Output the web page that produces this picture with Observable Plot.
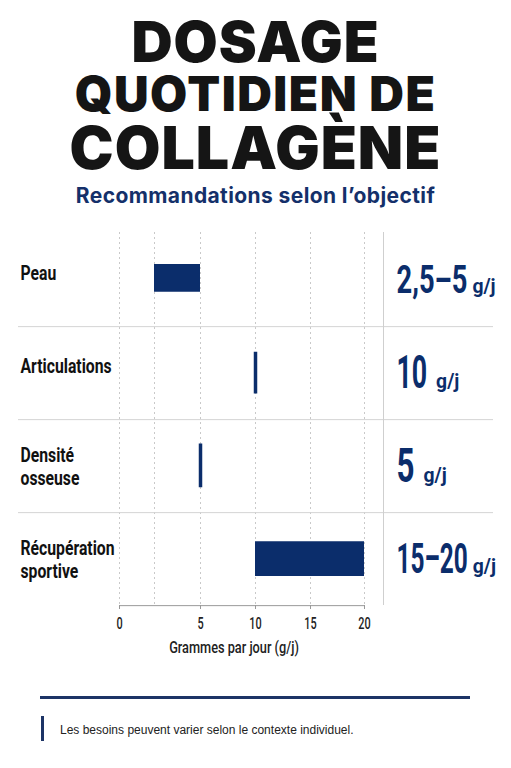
<!DOCTYPE html>
<html><head><meta charset="utf-8">
<script src="https://cdn.jsdelivr.net/npm/d3@7"></script>
<script src="https://cdn.jsdelivr.net/npm/@observablehq/plot@0.6"></script>
<style>
html,body{margin:0;padding:0;background:#fff;}
body{width:511px;height:768px;overflow:hidden;position:relative;font-family:Inter,"Noto Sans",sans-serif;}
.tl{position:absolute;left:0;width:511px;text-align:center;white-space:nowrap;font-family:Inter,sans-serif;font-weight:900;color:#151515;line-height:0.85;}
#sub{position:absolute;left:0;width:511px;text-align:center;white-space:nowrap;font-family:Inter,sans-serif;font-weight:700;font-size:21px;letter-spacing:0.4px;line-height:1;color:#14306a;top:184.8px;}
#chart{position:absolute;left:0;top:230px;}
#rule{position:absolute;left:40px;top:696px;width:430px;height:2.5px;background:#1d3466;}
#bar{position:absolute;left:41px;top:716px;width:2.5px;height:25px;background:#1d3466;}
#note{position:absolute;left:60px;top:724px;font-family:"Liberation Sans",Arial,sans-serif;font-size:12px;line-height:1;color:#222;white-space:nowrap;}
</style></head>
<body>
<div id="t1" class="tl"></div><div id="t2" class="tl"></div><div id="t3" class="tl"></div>
<div id="sub"></div>
<div id="chart"></div>
<div id="rule"></div><div id="bar"></div><div id="note"></div>
<script>
// ---- data ----
const titleLines = ["DOSAGE", "QUOTIDIEN DE", "COLLAGÈNE"];
const subtitle = "Recommandations selon l’objectif";
const objectives = ["Peau", "Articulations", "Densité\nosseuse", "Récupération\nsportive"];
const doseLow = [2.5, 10, 5, 10];
const doseHigh = [5, 10, 5, 20];
const doseLabels = ["2,5–5", "10", "5", "15–20"];
const doseUnit = "g/j";
const gridValues = [0, 2.5, 5, 10, 15, 20];
const axisTicks = [0, 5, 10, 15, 20];
const axisTitle = "Grammes par jour (g/j)";
const note = "Les besoins peuvent varier selon le contexte individuel.";

// ---- styles ----
const navy = "#0b2d6b";
const titleSizes = [57, 48, 59];
const titleSpacing = [1, 1.5, 1];
const titleBaselines = [63, 112, 170];
const valueSizes = {"Peau": 39, "Articulations": 46, "Densité\nosseuse": 49, "Récupération\nsportive": 42};
const valueSqueeze = {"2,5–5": 0.7, "10": 0.58, "5": 0.64, "15–20": 0.58};
const unitGap = {"2,5–5": 5, "10": 9, "5": 9, "15–20": 5};
const barInsets = {"Peau": [31, 34.25], "Articulations": [25.75, 25.5], "Densité\nosseuse": [24.5, 24.75], "Récupération\nsportive": [29.25, 29]};

titleLines.forEach((t, i) => {
  const el = document.getElementById("t" + (i + 1));
  el.textContent = t;
  el.style.fontSize = titleSizes[i] + "px";
  el.style.letterSpacing = titleSpacing[i] + "px";
  el.style.top = (titleBaselines[i] - 0.789 * titleSizes[i]) + "px";
});
document.getElementById("sub").textContent = subtitle;
document.getElementById("note").textContent = note;

const rows = objectives.map((o, i) => ({objective: o, low: doseLow[i], high: doseHigh[i], label: doseLabels[i]}));

const W = 511, H = 430, mT = 2, mB = 55;
const bw = (H - mT - mB) / objectives.length;

const marks = [
  Plot.ruleX(gridValues, {stroke: "#c9c9c9", strokeDasharray: "2,3"}),
  Plot.ruleY(rows.slice(0, -1), {y: "objective", dy: bw / 2, stroke: "#d4d4d4"}),
  Plot.ruleY(rows.slice(-1), {y: "objective", x1: axisTicks[0], x2: axisTicks[axisTicks.length - 1], dy: bw / 2, stroke: "#9a9a9a"}),
  Plot.ruleX(axisTicks.slice(-1), {dx: 19, stroke: "#cfcfcf"}),
];
rows.filter(d => d.low < d.high).forEach(d => {
  marks.push(Plot.barX([d], {x1: "low", x2: "high", y: "objective", fill: navy, insetTop: barInsets[d.objective][0], insetBottom: barInsets[d.objective][1]}));
});
rows.filter(d => d.low === d.high).forEach(d => {
  marks.push(Plot.tickX([d], {x: "low", y: "objective", stroke: navy, strokeWidth: 3.5, insetTop: barInsets[d.objective][0], insetBottom: barInsets[d.objective][1]}));
});
marks.push(
  Plot.text(rows, {y: "objective", text: "objective", frameAnchor: "left", dx: 2, textAnchor: "start", fontSize: 21, fontWeight: 700, fill: "#111", lineHeight: 1.08}),
  Plot.text(rows, {y: "objective", text: "label", frameAnchor: "right", dx: -97, textAnchor: "start", fontSize: d => valueSizes[d.objective], fontWeight: 700, fill: navy}),
  Plot.axisX(axisTicks, {anchor: "bottom", tickSize: 4, tickPadding: 19, fontSize: 16, fontWeight: 500, stroke: "#999", fill: "#222", label: null}),
  Plot.text([axisTitle], {frameAnchor: "bottom", dx: -22, dy: 47, fontSize: 17, fontWeight: 500, fill: "#222"})
);

const chart = Plot.plot({
  width: W, height: H,
  marginTop: mT, marginBottom: mB, marginLeft: 18, marginRight: 18,
  style: {fontFamily: "Roboto, sans-serif", fontSize: "15px", color: "#222", background: "transparent"},
  x: {type: "linear", domain: gridValues, range: [119, 154, 200, 255, 310, 364]},
  y: {domain: objectives, padding: 0, axis: null},
  marks
});
document.getElementById("chart").appendChild(chart);

// condense text horizontally (condensed face look) and add the unit after each value
const NS = "http://www.w3.org/2000/svg";
Array.from(chart.querySelectorAll("text")).forEach(t => {
  const txt = t.textContent;
  const g = t.parentNode;
  const fill = (g.getAttribute && g.getAttribute("fill")) || t.getAttribute("fill") || "";
  const isValue = fill === navy && txt in valueSqueeze;
  let s;
  if (isValue) { s = valueSqueeze[txt]; t.setAttribute("dy", "0.33em"); }
  else if (fill === "#111") s = 0.75;
  else if (txt === axisTitle) s = 0.75;
  else s = 0.68;
  let X = 0, Y = 0;
  const x = t.getAttribute("x"), y = t.getAttribute("y");
  let tr = t.getAttribute("transform") || "";
  const m = tr.match(/translate\(\s*([-\d.e]+)[ ,]+([-\d.e]+)\s*\)/);
  if (m) { X = +m[1]; Y = +m[2]; }
  if (x !== null || y !== null) {
    X += +x || 0; Y += +y || 0;
    t.removeAttribute("x"); t.removeAttribute("y");
  }
  const rest = tr.replace(/translate\([^)]*\)/, "");
  t.setAttribute("transform", `translate(${X},${Y})${rest} scale(${s},1)`);
  if (isValue) {
    const fs = parseFloat(getComputedStyle(t).fontSize);
    const w = t.getBBox().width * s;
    const u = document.createElementNS(NS, "text");
    u.setAttribute("transform", `translate(${X + w + unitGap[txt]},${Y}) scale(0.92,1)`);
    u.setAttribute("dy", (0.33 * fs).toFixed(2));
    u.setAttribute("font-size", "21");
    u.setAttribute("font-weight", "700");
    u.setAttribute("text-anchor", "start");
    u.setAttribute("fill", navy);
    u.textContent = doseUnit;
    g.appendChild(u);
  }
});
</script>
</body></html>
